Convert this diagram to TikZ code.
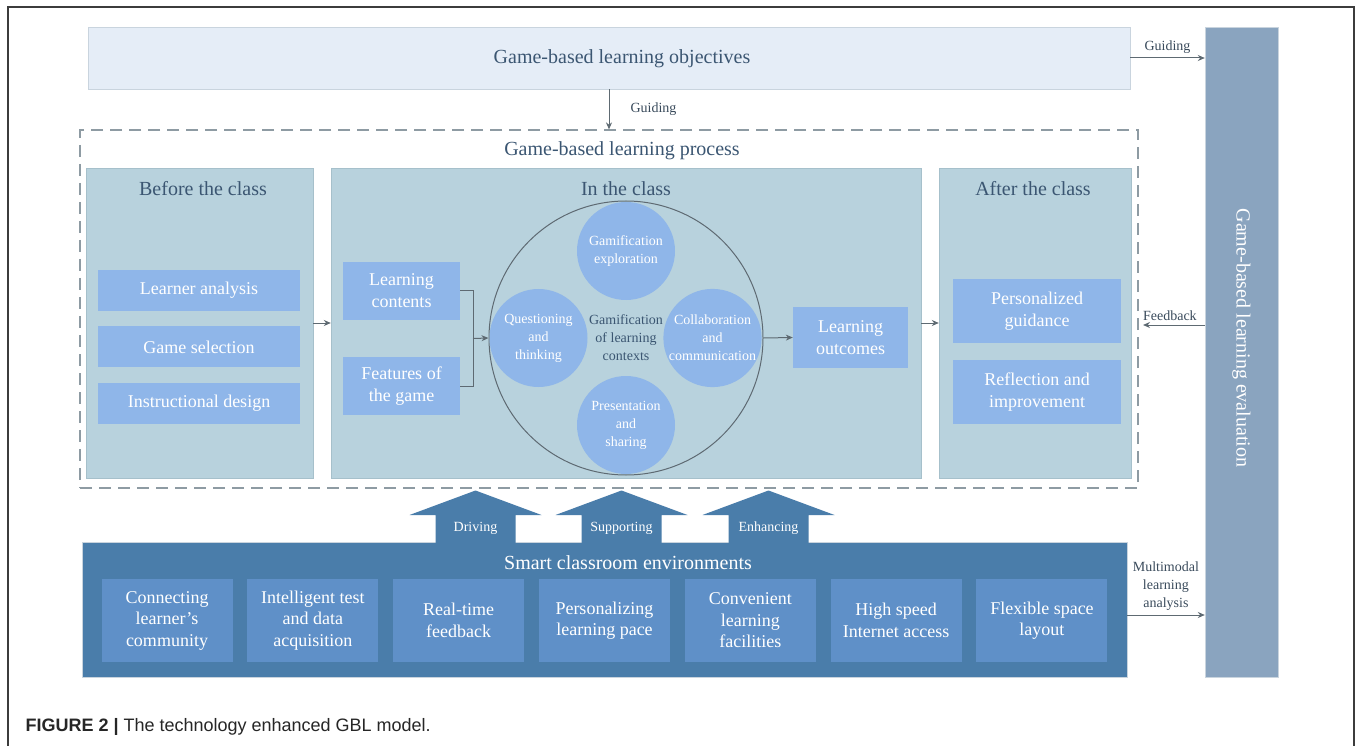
\documentclass[tikz,border=0pt]{standalone}
\usepackage{fontspec}
\setmainfont{Liberation Serif}
\newfontfamily\capfont{Liberation Sans}
\usetikzlibrary{arrows.meta,positioning,shapes}
\definecolor{objfill}{HTML}{E5EDF7}
\definecolor{objline}{HTML}{C9D4DE}
\definecolor{phasefill}{HTML}{B8D2DD}
\definecolor{phaseline}{HTML}{A6C0CB}
\definecolor{itemfill}{HTML}{8FB6E9}
\definecolor{headtext}{HTML}{3B5672}
\definecolor{labeltext}{HTML}{3A4B5C}
\definecolor{evalfill}{HTML}{8AA4BF}
\definecolor{smartfill}{HTML}{4A7DAA}
\definecolor{sitemfill}{HTML}{5F90C8}
\definecolor{arrowgray}{HTML}{5E6A72}
\definecolor{dashgray}{HTML}{8E9BA3}
\definecolor{framegray}{HTML}{3C3C3C}

\begin{document}
\begin{tikzpicture}[x=1pt,y=-1pt,
    post/.style={-{Stealth[length=7pt,width=6pt]},line width=1pt,draw=arrowgray},
    link/.style={line width=1pt,draw=arrowgray},
    lbl/.style={text=labeltext,font=\fontsize{14}{18}\selectfont,align=center,inner sep=1pt},
    head/.style={text=headtext,font=\fontsize{20}{24}\selectfont,inner sep=0pt},
    phase/.style={draw=phaseline,fill=phasefill,minimum height=310pt,inner sep=0pt},
    item/.style={fill=itemfill,text=white,align=center,inner sep=0pt,
        font=\fontsize{18}{22}\selectfont},
    bubble/.style={circle,fill=itemfill,text=white,minimum size=98pt,inner sep=0pt,
        align=center,font=\fontsize{14}{18}\selectfont},
    sitem/.style={fill=sitemfill,text=white,minimum width=131pt,minimum height=83pt,
        inner sep=0pt,align=center,font=\fontsize{18}{21.5}\selectfont}
    ]

\useasboundingbox (0,0) rectangle (1358,746);
\fill[white] (0,0) rectangle (1358,746);
\draw[line width=1.3pt,framegray] (8,746) -- (8,7) -- (1354,7) -- (1354,746);

\node[draw=objline,fill=objfill,minimum width=1042pt,minimum height=62pt,inner sep=0pt] (obj) at (609,58) {};
\node[head] (objtitle) at (622,59) {Game-based learning objectives};
\node[fill=evalfill,draw=objline,minimum width=73pt,minimum height=650pt,inner sep=0pt] (evalbar) at (1241.5,352) {};
\node[rotate=-90,text=white,font=\fontsize{20}{24}\selectfont] (evaltext) at (1241.5,338) {Game-based learning evaluation};

\node[draw=dashgray,dashed,dash pattern=on 12pt off 7pt,line width=1.2pt,minimum width=1058pt,minimum height=358pt,inner sep=0pt] (process) at (609,309) {};
\node[head] (proctitle) at (622,151) {Game-based learning process};

\node[phase,minimum width=227pt] (before) at (199.5,323) {};
\node[phase,minimum width=590pt] (inclass) at (626,323) {};
\node[phase,minimum width=192pt] (after) at (1035,323) {};
\node[head] (beforetitle) at (203,189) {Before the class};
\node[head] (intitle) at (626,189) {In the class};
\node[head] (aftertitle) at (1033,189) {After the class};

\node[item,minimum width=202pt,minimum height=41pt] (learner) at (199,290.5) {Learner analysis};
\node[item,minimum width=202pt,minimum height=41pt,below=15pt of learner] (gamesel) {Game selection};
\node[item,minimum width=202pt,minimum height=41pt,below=15pt of gamesel] (design) {Instructional design};

\node[item,minimum width=117pt,minimum height=58pt] (contents) at (401.5,291) {Learning\\contents};
\node[item,minimum width=117pt,minimum height=58pt,below=37pt of contents] (features) {Features of\\the game};

\node[circle,draw=arrowgray,line width=1pt,minimum size=274pt,inner sep=0pt,align=center,
    text=headtext,font=\fontsize{14}{18}\selectfont] (ctx) at (626,338) {Gamification\\of learning\\contexts};
\node[bubble] (explore) at (626,251) {Gamification\\exploration};
\node[bubble] (question) at (538.5,338) {Questioning\\and\\thinking};
\node[bubble] (collab) at (712.5,338) {Collaboration\\and\\communication};
\node[bubble] (present) at (626,425) {Presentation\\and\\sharing};

\node[item,minimum width=115pt,minimum height=61pt] (outcomes) at (850.5,337.5) {Learning\\outcomes};

\node[item,minimum width=168pt,minimum height=64pt] (guidance) at (1037,311) {Personalized\\guidance};
\node[item,minimum width=168pt,minimum height=64pt,below=17pt of guidance] (reflect) {Reflection and\\improvement};

\node[fill=smartfill,draw=objline,minimum width=1045pt,minimum height=135pt,inner sep=0pt] (smart) at (604.5,609.5) {};
\node[text=white,font=\fontsize{20}{24}\selectfont,inner sep=0pt] (smarttitle) at (628,563) {Smart classroom environments};
\foreach \txt [count=\i] in {{Connecting\\learner's\\community},{Intelligent test\\and data\\acquisition},
    {Real-time\\feedback},{Personalizing\\learning pace},{Convenient\\learning\\facilities},
    {High speed\\Internet access},{Flexible space\\layout}}
  \node[sitem] (s\i) at ({167+(\i-1)*145.83},620.5) {\txt};

\foreach \x/\word [count=\i] in {475.5/Driving,621.5/Supporting,768.5/Enhancing} {
  \fill[smartfill] (\x-40,543) -- (\x-40,515) -- (\x-66,515) -- (\x,490.5) -- (\x+66,515) -- (\x+40,515) -- (\x+40,543) -- cycle;
  \node[text=white,font=\fontsize{14}{18}\selectfont] (up\i) at (\x,528) {\word};
}

\coordinate (join) at (473,338.5);
\draw[link] (contents.east) -| (join);
\draw[link] (features.east) -| (join);
\draw[post] (join) -- (ctx.west);
\draw[post] (ctx.east) -- (outcomes.west);
\draw[post] (before.east) -- (inclass.west);
\draw[post] (inclass.east) -- (after.west);

\draw[post] (obj.south) -- node[lbl,right=20pt] (guide1) {Guiding} (process.north);
\draw[post] (obj.east) -- node[lbl,above=3pt] (guide2) {Guiding} (evalbar.west |- obj.east);
\coordinate (fbend) at (1143,325);
\draw[post] (evalbar.west |- fbend) -- node[lbl,above=3pt,xshift=-4pt] (fblabel) {Feedback} (fbend);
\coordinate (mmstart) at (1127,615);
\draw[post] (mmstart) -- node[lbl,above=3pt] (mmlabel) {Multimodal\\learning\\analysis} (evalbar.west |- mmstart);

\node[anchor=west,font=\capfont\fontsize{18}{21}\selectfont,text=black!85] (caption) at (22,727) {\textbf{FIGURE 2 |} The technology enhanced GBL model.};

\end{tikzpicture}
\end{document}
